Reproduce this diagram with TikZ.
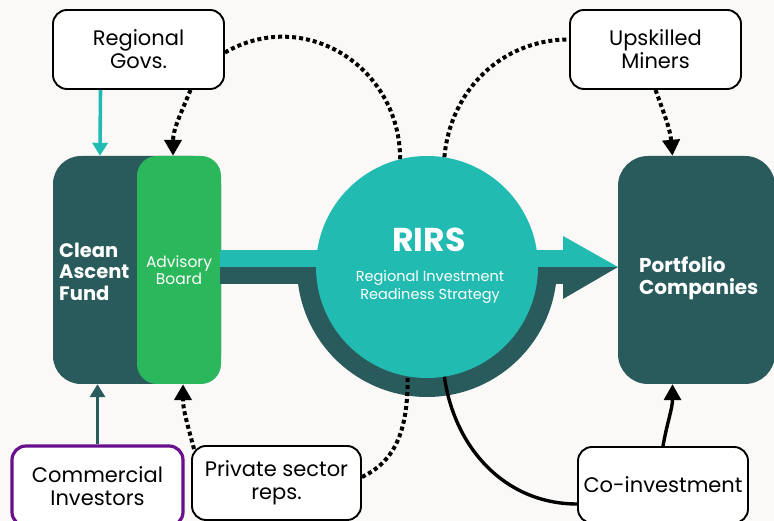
\documentclass[tikz,border=0pt]{standalone}
\usepackage{fontspec}
\setmainfont{Poppins}
\usetikzlibrary{arrows.meta}

\definecolor{paper}{RGB}{250,249,247}
\definecolor{rirsteal}{RGB}{33,187,178}
\definecolor{deepteal}{RGB}{42,91,92}
\definecolor{boardgreen}{RGB}{43,183,92}
\definecolor{investpurple}{RGB}{106,15,140}

\tikzset{
  label box/.style={draw=black, line width=1.9pt, fill=white, rounded corners=14pt,
                    align=center, inner sep=0pt, font=\fontsize{21}{23}\selectfont},
  dark block/.style={fill=deepteal, rounded corners=28pt, inner sep=0pt,
                     minimum height=228pt},
  dotline/.style={line width=4pt, dash pattern=on 4pt off 3pt},
  headed/.style={-{Triangle[width=17pt,length=16pt]}},
}

\begin{document}
\begin{tikzpicture}[x=1pt, y=1pt, line join=round]

  %--- lienzo ---
  \useasboundingbox (0,0) rectangle (774,521);
  \fill[paper] (0,0) rectangle (774,521);
  \clip (0,0) rectangle (774,521);

  %--- parámetros ---
  \def\cy{254}   % línea media de la flecha grande
  \def\cx{427}   % centro del círculo RIRS

  %--- fondo y consejo ---
  \node[dark block, minimum width=168pt] (fund) at (137,251) {};
  \node[fill=boardgreen, rounded corners=20pt, inner sep=0pt,
        minimum width=84pt, minimum height=228pt, text=white, align=center,
        font=\fontsize{15.5}{17}\selectfont] (board) at (179,251) {Advisory\\Board};
  \node[anchor=west, inner sep=0pt, text=white, align=left,
        font=\fontsize{19.5}{21.5}\selectfont\bfseries] (fundtxt) at (59,249.5)
        {Clean\\Ascent\\Fund};

  %--- flecha grande (mitad oscura abajo, mitad turquesa arriba) ---
  \fill[deepteal] (220,237) rectangle (563,\cy);
  \fill[deepteal] (\cx-130,\cy) arc[start angle=180, end angle=360, radius=130] -- cycle;
  \fill[deepteal] (563,\cy) -- (563,222) -- (618,\cy) -- cycle;
  \fill[rirsteal] (220,\cy) rectangle (563,271);
  \fill[rirsteal] (563,\cy) -- (563,285) -- (618,\cy) -- cycle;

  %--- círculo RIRS ---
  \node[circle, fill=rirsteal, minimum size=222pt, inner sep=0pt] (rirs) at (\cx,\cy) {};
  \node[anchor=base, inner sep=0pt, text=white,
        font=\fontsize{33}{35}\selectfont\bfseries] (rirstitle) at (429,269) {RIRS};
  \node[inner sep=0pt, text=white, align=center,
        font=\fontsize{14.5}{18}\selectfont] (rirssub) at (430,234)
        {Regional Investment\\Readiness Strategy};

  %--- cartera ---
  \node[dark block, rounded corners=30pt, minimum width=157pt] (portfolio) at (696.5,251) {};
  \node[anchor=west, inner sep=0pt, text=white, align=left,
        font=\fontsize{20}{22}\selectfont\bfseries] (portfoliotxt) at (639,242.5)
        {Portfolio\\Companies};

  %--- cajas de actores ---
  \node[label box, minimum width=171pt, minimum height=79pt] (govs) at (138.5,471.5) {Regional\\Govs.};
  \node[label box, minimum width=171pt, minimum height=79pt] (miners) at (655.5,471.5) {Upskilled\\Miners};
  \node[label box, draw=investpurple, line width=3.2pt, minimum width=171pt,
        minimum height=80pt] (investors) at (97.5,35) {Commercial\\Investors};
  \node[label box, minimum width=169pt, minimum height=74pt] (reps) at (276.5,38) {Private sector\\reps.};
  \node[label box, minimum width=170pt, minimum height=76pt] (coinv) at (663,36) {Co-investment};

  %--- aportes directos al fondo ---
  \draw[line width=3.6pt, rirsteal, -{Triangle[width=15pt,length=13pt]}]
      ([xshift=-38pt]govs.south) -- ([xshift=-37pt]fund.north);
  \draw[line width=3.6pt, deepteal, -{Triangle[width=15pt,length=13pt]}]
      (investors.north) -- (investors.north |- fund.south);

  %--- vínculos punteados ---
  \draw[dotline, headed] ([xshift=52pt]govs.south) to[out=-112, in=90] ([xshift=-6pt]board.north);
  \draw[dotline] ([yshift=-3pt]govs.east) to[out=30, in=90, looseness=1.15] (rirs.104);
  \draw[dotline] (rirs.81) to[out=85, in=180] ([yshift=10pt]miners.west);
  \draw[dotline, headed] (miners.south) to[out=-70, in=95] ([xshift=-24pt]portfolio.north);
  \draw[dotline, headed] ([shift={(3pt,-4pt)}]reps.north west) to[out=105, in=-90] ([xshift=4pt]board.south);
  \draw[dotline] ([yshift=6pt]reps.east) to[out=25, in=-90] (rirs.260);

  %--- coinversión ---
  \draw[line width=3.4pt] (rirs.-81) to[out=-82, in=180] ([yshift=-19pt]coinv.west);
  \draw[line width=3.4pt, headed] (coinv.north) to[out=80, in=-90] ([xshift=-24pt]portfolio.south);

\end{tikzpicture}
\end{document}
